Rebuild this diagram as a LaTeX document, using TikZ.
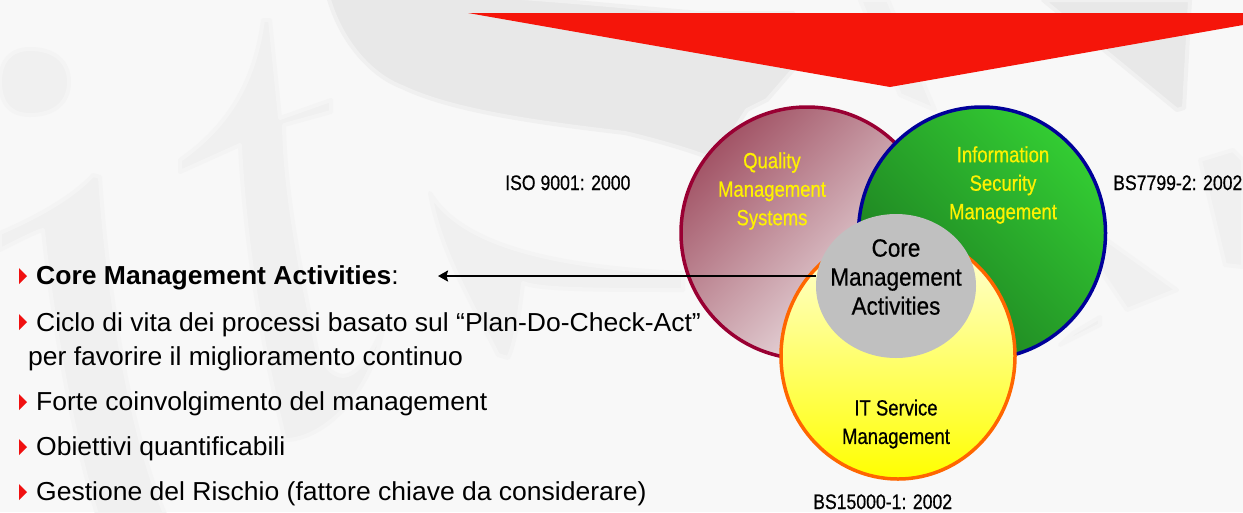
\documentclass[tikz,border=0pt]{standalone}
\usepackage{fontspec}
\setmainfont{Liberation Sans}
\newfontfamily\narrowA[FakeStretch=0.84,FakeBold=0.6]{Liberation Sans}
\newfontfamily\narrowB[FakeStretch=0.90,FakeBold=0.6]{Liberation Sans}
\newfontfamily\bodyfont[FakeStretch=1.02]{Liberation Sans}
\usetikzlibrary{arrows.meta,shapes.geometric}
\definecolor{bgc}{HTML}{F8F8F8}
\definecolor{wm}{HTML}{F0F0F0}
\definecolor{wmd}{HTML}{E8E8E8}
\definecolor{redtri}{HTML}{F5150A}
\definecolor{redb}{HTML}{990033}
\definecolor{redd}{HTML}{A25466}
\definecolor{redl}{HTML}{F4F0F1}
\definecolor{greenb}{HTML}{000099}
\definecolor{greend}{HTML}{1C7A20}
\definecolor{greenl}{HTML}{33CC33}
\definecolor{orangeb}{HTML}{FF6600}
\definecolor{yelt}{HTML}{FFFFE0}
\definecolor{yelb}{HTML}{FFFF00}
\definecolor{coregray}{HTML}{C0C0C0}
\definecolor{bulletred}{HTML}{F01010}
\tikzset{
  x=1pt,y=-1pt,
  wmark/.style={fill=wm,draw=wm!50!bgc,line width=4pt,line join=round},
  wmarkd/.style={fill=wmd,draw=wmd!50!bgc,line width=4pt,line join=round},
  venn/.style={ellipse,inner sep=0pt,line width=3.5pt},
  circlabel/.style={align=center,font=\narrowA\fontsize{22}{28.5}\selectfont,text=yellow,inner sep=0pt,anchor=center},
  darklabel/.style={circlabel,text=black},
  corelabel/.style={align=center,font=\narrowB\fontsize{25}{29}\selectfont,text=black,inner sep=0pt},
  stdlabel/.style={font=\narrowA\fontsize{21}{24}\selectfont,text=black,inner sep=0pt,anchor=base west},
  body/.style={anchor=base west,font=\bodyfont\fontsize{26}{28}\selectfont,text=black,inner sep=0pt},
  bulletmark/.style={fill=bulletred,draw=none}
}
\newcommand{\bulletat}[1]{\fill[bulletmark] (19,#1-8) -- (27,#1) -- (19,#1+8) -- cycle;}
\begin{document}
\begin{tikzpicture}
\useasboundingbox (0,0) rectangle (1243,512);
\fill[bgc] (0,0) rectangle (1243,512);
% watermark
\fill[wmark] (30,49) .. controls (55,49) and (69,62) .. (69,82) .. controls (69,102) and (55,115) .. (30,115) .. controls (8,115) and (0,100) .. (0,82) .. controls (0,62) and (10,49) .. (30,49) -- cycle;
% left stroke
\fill[wmark] (93,175) .. controls (70,200) and (30,220) .. (0,233) -- (0,250) .. controls (20,240) and (35,232) .. (43,230) .. controls (50,300) and (70,430) .. (97,514) -- (165,514) .. controls (125,420) and (105,260) .. (100,177) -- cycle;
% t
\fill[wmark] (263,20) .. controls (255,80) and (230,125) .. (180,160) -- (180,172) -- (240,145) .. controls (245,250) and (265,360) .. (285,440) .. controls (320,440) and (370,400) .. (384,325) .. controls (365,370) and (340,400) .. (317,350) .. controls (305,290) and (285,200) .. (284,125) -- (331,112) -- (331,100) -- (280,118) -- (270,20) -- cycle;
% swoosh
\fill[wmark] (430,193) .. controls (450,225) and (500,265) .. (683,273) -- (683,290) .. controls (600,290) and (540,290) .. (523,283) .. controls (520,310) and (515,345) .. (508,358) -- (498,355) .. controls (470,300) and (440,250) .. (430,193) -- cycle;
% big S
\fill[wmarkd] (328,-4) .. controls (340,40) and (370,75) .. (402,87) .. controls (450,110) and (530,122) .. (625,133) .. controls (655,140) and (690,150) .. (715,160) -- (747,110) -- (767,100) -- (793,70) -- (793,13) -- (700,13) .. controls (640,8) and (560,0) .. (491,-4) -- cycle;
\fill[wmark] (860,0) -- (888,0) -- (935,110) -- (900,95) -- cycle;
\fill[wmarkd] (1043,0) -- (1190,0) -- (1184,108) -- (1177,110) -- cycle;
\fill[wmark] (1107,240) -- (1177,290) -- (1127,310) -- (1100,270) -- cycle;
\fill[wmark] (1100,317) -- (1073,333) -- (1060,345) -- (1100,325) -- cycle;
\fill[wmark] (1200,160) -- (1233,150) -- (1243,160) -- (1243,267) -- (1225,265) -- cycle;
% triangle
\fill[redtri] (468,13) -- (1243,13) -- (1243,25) -- (890,87) -- cycle;
% venn
\node[venn,draw=redb,minimum width=252pt,minimum height=252pt,shading=axis,top color=redd,bottom color=redl,shading angle=45] (qms) at (807,233) {};
\node[venn,draw=greenb,minimum width=247pt,minimum height=252pt,shading=axis,top color=greenl,bottom color=greend,shading angle=-45] (ism) at (982,233) {};
\node[venn,draw=orangeb,minimum width=234pt,minimum height=246pt,shading=axis,top color=yelt,bottom color=yelb] (itsm) at (898,356) {};
\node[ellipse,fill=coregray,inner sep=0pt,minimum width=160pt,minimum height=144pt] (core) at (896,286) {};
% labels
\node[circlabel] (qmst) at (772,191) {Quality\\Management\\Systems};
\node[circlabel] (ismt) at (1003,185) {Information\\Security\\Management};
\node[darklabel] (itsmt) at (896,424) {IT Service\\Management};
\node[corelabel] (coret) at (896,277) {Core\\Management\\Activities};
\node[stdlabel] (iso) at (505,190) {ISO 9001: 2000};
\node[stdlabel] (bs7) at (1113,190) {BS7799-2: 2002};
\node[stdlabel] (bs15) at (813,509) {BS15000-1: 2002};
% body
\bulletat{276}
\node[body] (l1) at (36,284) {\textbf{Core Management Activities}:};
\bulletat{322}
\node[body] (l2) at (36,331) {Ciclo di vita dei processi basato sul “Plan-Do-Check-Act”};
\node[body] (l3) at (28,365) {per favorire il miglioramento continuo};
\bulletat{402}
\node[body] (l4) at (36,410) {Forte coinvolgimento del management};
\bulletat{447}
\node[body] (l5) at (36,455) {Obiettivi quantificabili};
\bulletat{492}
\node[body] (l6) at (36,500) {Gestione del Rischio (fattore chiave da considerare)};
% arrow
\coordinate (arrowend) at (438,276);
\draw[line width=2.2pt,-{Stealth[length=10pt,width=11pt,inset=1.5pt]}] (core.west |- 0,276) -- (arrowend);
\end{tikzpicture}
\end{document}
